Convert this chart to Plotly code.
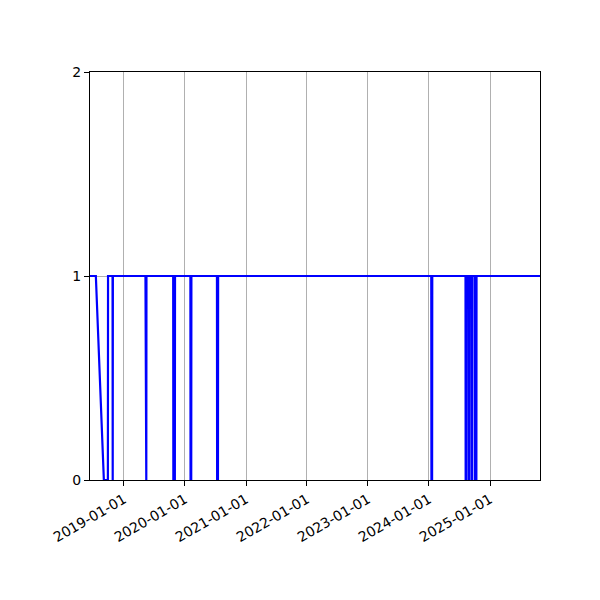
import plotly.graph_objects as go

# change points (value is 0 or 1)
dates = ["2018-06-12", "2018-07-17", "2018-09-03", "2018-09-27", "2018-09-28",
         "2018-10-25", "2018-10-26", "2018-10-27",
         "2019-05-10", "2019-05-11", "2019-05-15", "2019-05-16",
         "2019-10-23", "2019-10-24", "2019-11-02", "2019-11-03",
         "2020-02-03", "2020-02-04", "2020-02-08", "2020-02-09",
         "2020-07-11", "2020-07-12", "2020-07-17", "2020-07-18",
         "2024-01-15", "2024-01-16", "2024-01-20", "2024-01-21",
         "2024-08-07", "2024-08-08", "2024-08-11", "2024-08-12",
         "2024-08-25", "2024-08-26", "2024-08-29", "2024-08-30",
         "2024-09-12", "2024-09-13", "2024-09-16", "2024-09-17",
         "2024-10-02", "2024-10-03", "2024-10-11", "2024-10-12",
         "2025-10-27"]
values = [1, 1, 0, 0, 1,
          1, 0, 1,
          1, 0, 0, 1,
          1, 0, 0, 1,
          1, 0, 0, 1,
          1, 0, 0, 1,
          1, 0, 0, 1,
          1, 0, 0, 1,
          1, 0, 0, 1,
          1, 0, 0, 1,
          1, 0, 0, 1,
          1]

tick_dates = ["2019-01-01", "2020-01-01", "2021-01-01", "2022-01-01",
              "2023-01-01", "2024-01-01", "2025-01-01"]
y_ticks = [0, 1, 2]

fig = go.Figure()
fig.add_trace(go.Scatter(x=dates, y=values, mode="lines",
                         line=dict(color="blue", width=2.2)))

axis_style = dict(showline=True, linecolor="black", linewidth=1, mirror=True,
                  ticks="outside", ticklen=5, tickwidth=1, tickcolor="black",
                  showgrid=True, gridcolor="#b0b0b0", gridwidth=1, zeroline=False)

fig.update_xaxes(range=[dates[0], dates[-1]], tickvals=tick_dates, ticktext=tick_dates,
                 tickangle=-30, **axis_style)
fig.update_yaxes(range=[0, 2], tickvals=y_ticks, **axis_style)

# page body adds ~8px offset, so margins are shifted to land the axes box at 90..540 / 72..480
fig.update_layout(width=600, height=600, showlegend=False,
                  margin=dict(l=82, r=68, t=64, b=128),
                  plot_bgcolor="white", paper_bgcolor="white",
                  font=dict(family="DejaVu Sans", size=14, color="black"))

fig.write_html("out.html")
